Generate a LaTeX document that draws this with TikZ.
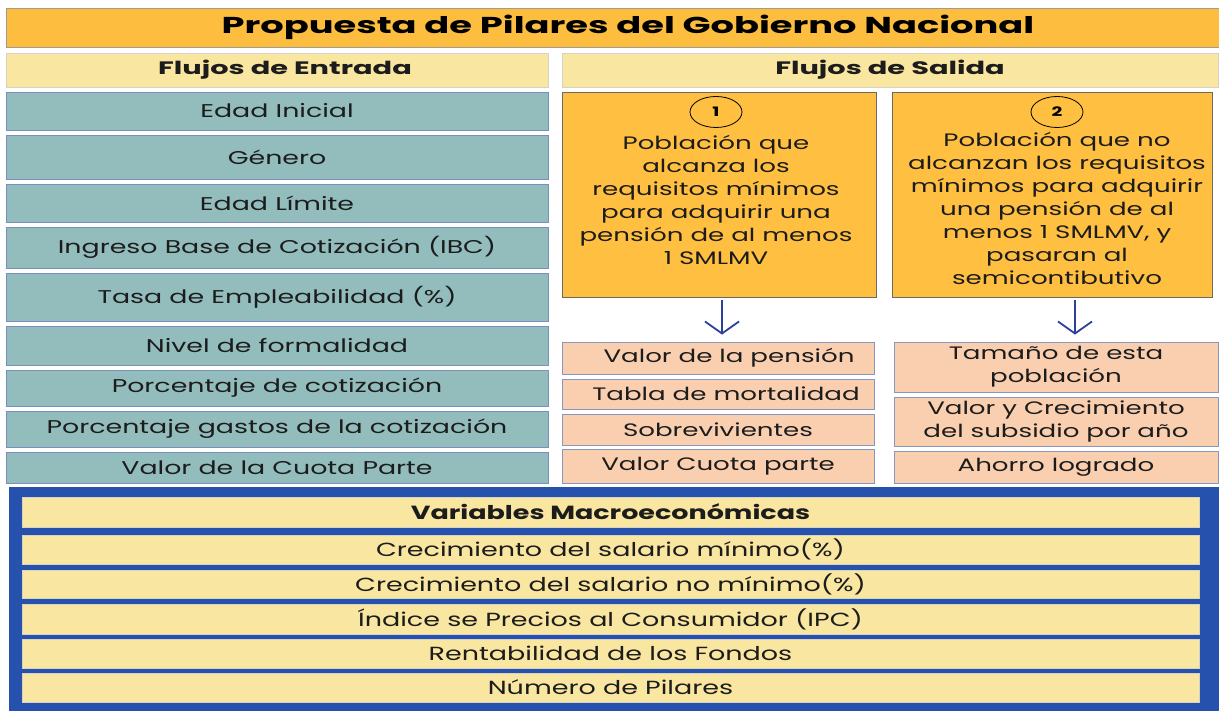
\documentclass[tikz,border=0pt]{standalone}
\usepackage{fontspec}
\setmainfont{Poppins}[FakeStretch=1.45]
\newfontfamily\headfont[FakeStretch=1.6]{Poppins}
\newfontfamily\macrofont[FakeStretch=1.42]{Poppins}
\usetikzlibrary{arrows.meta, positioning, shapes.geometric}

\definecolor{titlefill}{HTML}{FDBE3F}
\definecolor{titleline}{HTML}{A09C94}
\definecolor{headfill}{HTML}{F9E6A0}
\definecolor{headline}{HTML}{D6D2C4}
\definecolor{tealfill}{HTML}{93BCBD}
\definecolor{tealline}{HTML}{7B8FBF}
\definecolor{orangefill}{HTML}{FFBF40}
\definecolor{orangeline}{HTML}{6E6A62}
\definecolor{peachfill}{HTML}{F9CFB0}
\definecolor{peachline}{HTML}{8797BD}
\definecolor{panelblue}{HTML}{2652AE}
\definecolor{arrowblue}{HTML}{2B3F9C}
\definecolor{ink}{HTML}{1C1C1C}

\begin{document}
\begin{tikzpicture}[x=1pt, y=-1pt,
  titlebox/.style={draw=titleline, fill=titlefill, line width=0.8pt, inner sep=0pt,
    minimum width=1244pt, minimum height=39pt, text=black,
    font=\headfont\bfseries\fontsize{23}{26}\selectfont},
  headbox/.style={draw=headline, fill=headfill, line width=0.8pt, inner sep=0pt,
    minimum height=34pt, text=ink, font=\headfont\bfseries\fontsize{18}{20}\selectfont},
  entrada/.style={draw=tealline, fill=tealfill, line width=0.8pt, inner sep=0pt,
    minimum width=542pt, text=ink, font=\fontsize{18.5}{22}\selectfont},
  pilar/.style={draw=orangeline, fill=orangefill, line width=0.8pt, inner sep=0pt,
    minimum height=205pt},
  numero/.style={ellipse, draw=black, line width=0.8pt, minimum width=52pt,
    minimum height=31pt, inner sep=0pt, font=\bfseries\fontsize{13}{14}\selectfont},
  pilartext/.style={align=center, text=ink, inner sep=0pt,
    font=\fontsize{18}{23}\selectfont},
  salida/.style={draw=peachline, fill=peachfill, line width=0.8pt, inner sep=0pt,
    align=center, text=ink, font=\fontsize{18}{23}\selectfont},
  macro/.style={draw=headline, fill=headfill, line width=0.8pt, inner sep=0pt,
    minimum width=1177pt, text=ink, font=\macrofont\fontsize{19}{22}\selectfont},
  flecha/.style={-{Straight Barb[length=12pt, width=34pt]}, arrowblue, line width=1.8pt}]

\useasboundingbox (0,0) rectangle (1219,711);

%title and headers
\node[titlebox] (title) at (628,27.5) {Propuesta de Pilares del Gobierno Nacional};
\node[headbox, minimum width=542pt] (entrada) at (277,70) {\hspace*{16pt}Flujos de Entrada};
\node[headbox, minimum width=656pt] (salida) at (890,70) {Flujos de Salida};

%flujos de entrada
\node[entrada, minimum height=38pt] (e1) at (277,111) {Edad Inicial};
\node[entrada, minimum height=44pt] (e2) at (277,157) {Género};
\node[entrada, minimum height=38pt] (e3) at (277,203) {Edad Límite};
\node[entrada, minimum height=41pt] (e4) at (277,247.5) {Ingreso Base de Cotización (IBC)};
\node[entrada, minimum height=48pt] (e5) at (277,297) {Tasa de Empleabilidad (\%)};
\node[entrada, minimum height=39pt] (e6) at (277,345.5) {Nivel de formalidad};
\node[entrada, minimum height=36pt] (e7) at (277,388) {Porcentaje de cotización};
\node[entrada, minimum height=36pt] (e8) at (277,429) {Porcentaje gastos de la cotización};
\node[entrada, minimum height=31pt] (e9) at (277,467.5) {Valor de la Cuota Parte};

%flujos de salida
\node[pilar, minimum width=314pt] (p1) at (719,194.5) {};
\node[pilar, minimum width=320pt] (p2) at (1052,194.5) {};
\node[numero] (n1) at (716,112) {1};
\node[numero] (n2) at (1057,112) {2};
\node[pilartext, below=7pt of n1] (t1) {Población que\\alcanza los\\requisitos mínimos\\para adquirir una\\pensión de al menos\\1 SMLMV};
\node[pilartext, below=4pt of n2] (t2) {Población que no\\alcanzan los requisitos\\mínimos para adquirir\\una pensión de al\\menos 1 SMLMV, y\\pasaran al\\semicontibutivo};

\node[salida, minimum width=312pt, minimum height=32pt] (s1) at (718,358) {\hspace*{22pt}Valor de la pensión};
\node[salida, minimum width=312pt, minimum height=30pt] (s2) at (718,394) {\hspace*{16pt}Tabla de mortalidad};
\node[salida, minimum width=312pt, minimum height=31pt] (s3) at (718,429.5) {Sobrevivientes};
\node[salida, minimum width=312pt, minimum height=34pt] (s4) at (718,466) {Valor Cuota parte};
\node[salida, minimum width=324pt, minimum height=50pt] (r1) at (1056,367) {Tamaño de esta\\población};
\node[salida, minimum width=324pt, minimum height=49pt] (r2) at (1056,421.5) {Valor y Crecimiento\\del subsidio por año};
\node[salida, minimum width=324pt, minimum height=32pt] (r3) at (1056,467) {Ahorro logrado};

\draw[flecha, shorten <=3pt, shorten >=7pt] ([xshift=3pt]p1.south) -- ([xshift=4pt]s1.north);
\draw[flecha, shorten <=3pt, shorten >=7pt] ([xshift=23pt]p2.south) -- ([xshift=19pt]r1.north);

%variables macroeconomicas
\node[fill=panelblue, inner sep=0pt, minimum width=1211pt, minimum height=226pt] (panel) at (614,600) {};
\node[macro, minimum height=30pt, font=\macrofont\bfseries\fontsize{19}{22}\selectfont] (m0) at (610.5,512) {Variables Macroeconómicas};
\node[macro, minimum height=29pt] (m1) at (610.5,549.5) {Crecimiento del salario mínimo(\%)};
\node[macro, minimum height=28pt] (m2) at (610.5,584) {Crecimiento del salario no mínimo(\%)};
\node[macro, minimum height=30pt] (m3) at (610.5,619) {Índice se Precios al Consumidor (IPC)};
\node[macro, minimum height=29pt] (m4) at (610.5,653.5) {Rentabilidad de los Fondos};
\node[macro, minimum height=29pt] (m5) at (610.5,687.5) {Número de Pilares};
\end{tikzpicture}
\end{document}
